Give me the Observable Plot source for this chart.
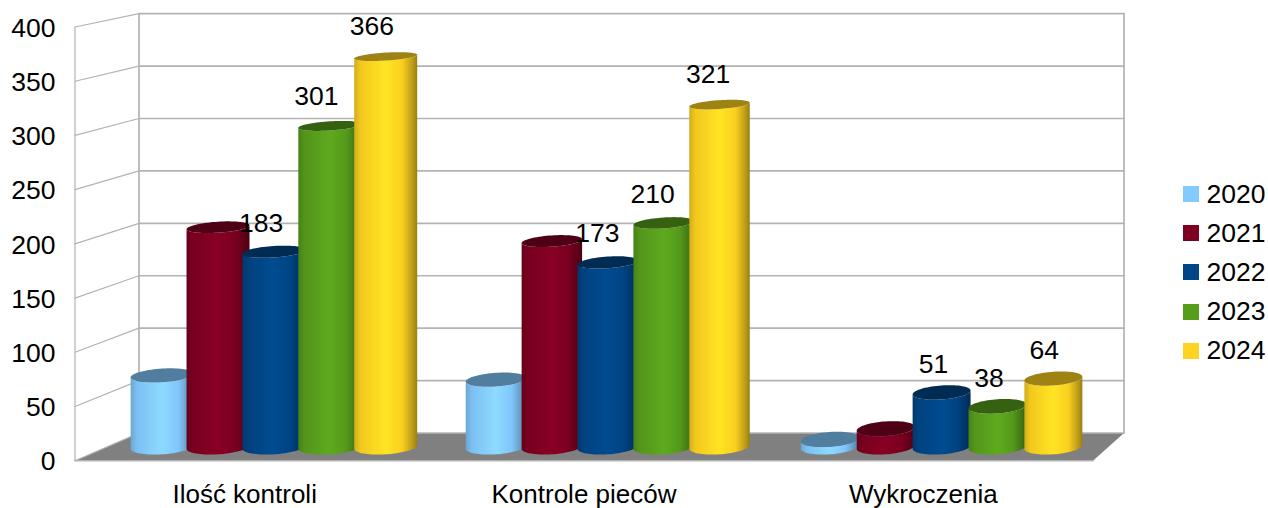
<!DOCTYPE html>
<html lang="pl">
<head>
<meta charset="utf-8">
<script src="https://cdn.jsdelivr.net/npm/d3@7"></script>
<script src="https://cdn.jsdelivr.net/npm/@observablehq/plot@0.6"></script>
<style>
  html, body { margin: 0; padding: 0; background: #fff; overflow: hidden; }
  #chart { position: relative; width: 1268px; height: 508px; font-family: "Liberation Sans", sans-serif; color: #000; }
  #chart svg { display: block; }
  #legend { position: absolute; left: 1183px; top: 174.5px; font-size: 26.5px; line-height: 39.2px; }
  #legend div { display: flex; align-items: center; height: 39.2px; }
  #legend i { display: block; width: 16px; height: 16px; margin-right: 7.5px; }
</style>
</head>
<body>
<div id="chart"></div>
<script>
// --- data ---
const categories = ["Ilość kontroli", "Kontrole pieców", "Wykroczenia"];
const years = ["2020", "2021", "2022", "2023", "2024"];
const values2020 = [67, 63, 7];
const values2021 = [206, 193, 17];
const values2022 = [183, 173, 51];
const values2023 = [301, 210, 38];
const values2024 = [366, 321, 64];
const seriesValues = [values2020, values2021, values2022, values2023, values2024];
const colors = ["#83caff", "#7e0021", "#004586", "#579d1c", "#ffd320"];
const labelledYears = ["2022", "2023", "2024"];
const yTicks = d3.range(0, 401, 50);

// --- oblique projection of the 3D box, in data units ---
// depth 0 = front plane (where the axes sit), depth 1 = back wall
const project = (x, v, depth) => ({
  x: x + depth * (0.1886 - 0.0324 * x),
  y: v + depth * (25.55 - 0.0332 * v)
});
const barDepth = 0.5, labelDepth = 0.28, slot = 0.1647, steps = 36;

const rows = seriesValues.flatMap((vals, j) => vals.map((v, i) => {
  const c = project(i + 0.5, 0, barDepth);
  return {
    id: `${i}-${j}`, year: years[j], value: v, group: i,
    cx: c.x + (j - 2) * slot,
    base: c.y,
    top: project(i + 0.5, v, barDepth).y,
    rx: 0.0928 - 0.0037 * i,
    label: project(i + 0.5 + (j - 2) * slot, v, labelDepth)
  };
}));

const ellipsePoint = (r, centre, ry, t) => ({
  id: r.id,
  x: r.cx + r.rx * Math.cos(t),
  y: centre + 1.8 * Math.cos(t) + ry * Math.sin(t)
});
const radiusAt = v => 6.9 - 0.0088 * v;

const bodyOutline = r => {
  const ry = radiusAt(0), ryTop = radiusAt(r.value), pts = [];
  for (let k = 0; k <= steps; k++) pts.push(ellipsePoint(r, r.base, ry, Math.PI + Math.PI * k / steps));
  for (let k = 0; k <= steps; k++) pts.push(ellipsePoint(r, r.top, ryTop, -Math.PI * k / steps));
  return pts;
};
const topOutline = r => d3.range(steps * 2).map(k => ellipsePoint(r, r.top, radiusAt(r.value), 2 * Math.PI * k / (steps * 2)));

const shade = (hex, f) => {
  const c = d3.rgb(hex);
  return d3.rgb(Math.min(255, c.r * f), Math.min(255, c.g * f), Math.min(255, c.b * f)).formatHex();
};

function gradients() {
  const defs = d3.create("svg:defs");
  const stops = [[0, 0.82], [0.1, 0.95], [0.5, 1.08], [0.76, 0.98], [0.92, 0.75], [1, 0.6]];
  years.forEach((y, j) => {
    const g = defs.append("linearGradient").attr("id", `cyl${y}`).attr("x1", 0).attr("x2", 1).attr("y1", 0).attr("y2", 0);
    stops.forEach(([o, f]) => g.append("stop").attr("offset", o).attr("stop-color", shade(colors[j], f)));
  });
  return defs.node();
}

// --- the box ---
const wallStroke = "#b3b3b3";
const segment = (a, b) => [project(...a), project(...b)];
const floor = [project(0, 0, 0), project(0, 0, 1), project(3, 0, 1), project(3, 0, 0)];
const backLines = yTicks.map(t => segment([0, t, 1], [3, t, 1]));
const sideLines = yTicks.map(t => segment([0, t, 0], [0, t, 1]));
const verticals = [segment([0, 0, 1], [0, 400, 1]), segment([3, 0, 1], [3, 400, 1])];
const tag = list => list.flatMap((s, i) => s.map(p => ({...p, id: i})));
const wallLine = (list, w) => Plot.line(tag(list), {x: "x", y: "y", z: "id", stroke: wallStroke, strokeWidth: w});

const cylinders = years.flatMap((y, j) => {
  const subset = rows.filter(r => r.year === y);
  return [
    Plot.line(subset.flatMap(bodyOutline), {x: "x", y: "y", z: "id", fill: `url(#cyl${y})`, stroke: "none"}),
    Plot.line(subset.flatMap(topOutline), {x: "x", y: "y", z: "id", fill: shade(colors[j], 0.62), stroke: "none"})
  ];
});

const chart = Plot.plot({
  width: 1268, height: 508,
  marginLeft: 75, marginRight: 175, marginTop: 27, marginBottom: 47.3,
  style: {fontFamily: "Liberation Sans, sans-serif", fontSize: "26px", background: "#fff", color: "#000"},
  x: {type: "linear", domain: [0, 3], range: [74.5, 1092.5]},
  y: {type: "linear", domain: [0, 400], range: [460.2, 26.5]},
  marks: [
    gradients,
    Plot.line(floor, {x: "x", y: "y", fill: "#808080", stroke: "none"}),
    wallLine(backLines, 1.7),
    wallLine(verticals, 1.7),
    wallLine(sideLines, 1.2),
    wallLine([segment([0, 0, 0], [0, 400, 0])], 1.2),
    wallLine([segment([0, 0, 0], [3, 0, 0])], 1.5),
    Plot.axisY({anchor: "left", ticks: yTicks, tickSize: 0, tickPadding: 20, fontSize: 26.5, dy: 1.2, label: null, fill: "#000"}),
    Plot.axisX({anchor: "bottom", ticks: categories.map((c, i) => i + 0.5), tickSize: 0, tickPadding: 23.5, fontSize: 26, label: null, fill: "#000",
      tickFormat: d => categories[d - 0.5]}),
    ...cylinders,
    Plot.text(rows.filter(r => labelledYears.includes(r.year)), {
      x: d => d.label.x, y: d => d.label.y, text: d => String(d.value),
      dy: -33.2, fontSize: 26.5, fill: "#000", textAnchor: "middle"
    })
  ]
});

const root = document.getElementById("chart");
root.append(chart);
const legend = document.createElement("div");
legend.id = "legend";
years.forEach((y, j) => {
  const row = document.createElement("div");
  const sw = document.createElement("i");
  sw.style.background = colors[j];
  row.append(sw, document.createTextNode(y));
  legend.append(row);
});
root.append(legend);
</script>
</body>
</html>
